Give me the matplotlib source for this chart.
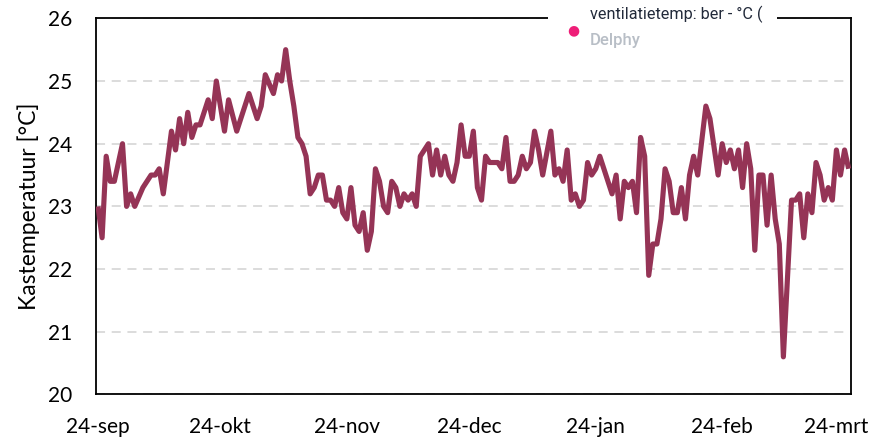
import numpy as np
import matplotlib
matplotlib.use("Agg")
import matplotlib.pyplot as plt
from matplotlib.patches import Rectangle

# Daily greenhouse temperature
START = "2022-09-24"
day_offset = [0, 1, 2, 3, 4, 6, 7, 8, 9, 11, 13, 14, 15, 16, 18, 19, 20, 21, 22, 23,
              24, 25, 27, 28, 29, 31, 32, 34, 37, 39, 40, 41, 43, 44, 45, 46, 47, 48, 49, 50,
              51, 52, 53, 54, 55, 56, 57, 58, 59, 60, 61, 62, 63, 64, 65, 66, 67, 68, 69, 70,
              71, 72, 73, 74, 75, 76, 77, 78, 79, 81, 82, 83, 84, 85, 86, 87, 88, 89, 90, 91,
              92, 93, 94, 95, 96, 98, 99, 100, 101, 102, 103, 104, 105, 106, 107, 108, 109, 111, 112, 113,
              114, 115, 116, 117, 118, 119, 120, 121, 122, 123, 126, 127, 128, 129, 130, 131, 132, 133, 134, 135,
              136, 137, 138, 139, 140, 141, 142, 143, 144, 145, 146, 147, 149, 150, 152, 153, 154, 155, 156, 157,
              158, 159, 160, 161, 162, 163, 164, 165, 166, 167, 168, 170, 171, 172, 173, 174, 175, 176, 177, 178,
              179, 180, 181, 182, 183, 184]
temperature = [23.0, 22.5, 23.8, 23.4, 23.4, 24.0, 23.0, 23.2, 23.0, 23.3, 23.5, 23.5, 23.6, 23.2, 24.2, 23.9, 24.4, 24.0, 24.5, 24.1,
               24.3, 24.3, 24.7, 24.4, 25.0, 24.2, 24.7, 24.2, 24.8, 24.4, 24.6, 25.1, 24.8, 25.1, 25.0, 25.5, 25.0, 24.6, 24.1, 24.0,
               23.8, 23.2, 23.3, 23.5, 23.5, 23.1, 23.1, 23.0, 23.3, 22.9, 22.8, 23.3, 22.7, 22.6, 22.9, 22.3, 22.6, 23.6, 23.4, 23.0,
               22.9, 23.4, 23.3, 23.0, 23.2, 23.1, 23.2, 23.0, 23.8, 24.0, 23.5, 23.9, 23.5, 23.8, 23.5, 23.4, 23.7, 24.3, 23.8, 23.8,
               24.2, 23.3, 23.1, 23.8, 23.7, 23.7, 23.6, 24.1, 23.4, 23.4, 23.5, 23.8, 23.6, 23.7, 24.2, 23.9, 23.5, 24.2, 23.5, 23.6,
               23.4, 23.9, 23.1, 23.2, 23.0, 23.1, 23.7, 23.5, 23.6, 23.8, 23.2, 23.5, 22.8, 23.4, 23.3, 23.4, 22.9, 24.1, 23.8, 21.9,
               22.4, 22.4, 22.8, 23.6, 23.4, 22.9, 22.9, 23.3, 22.8, 23.5, 23.8, 23.5, 24.6, 24.4, 23.5, 24.0, 23.7, 23.9, 23.6, 23.9,
               23.3, 24.0, 23.6, 22.3, 23.5, 23.5, 22.7, 23.5, 22.8, 22.4, 20.6, 23.1, 23.1, 23.2, 22.5, 23.2, 22.9, 23.7, 23.5, 23.1,
               23.3, 23.1, 23.9, 23.5, 23.9, 23.6]

tick_dates = ["2022-09-24", "2022-10-24", "2022-11-24", "2022-12-24",
              "2023-01-24", "2023-02-24", "2023-03-24"]
tick_labels = ["24-sep", "24-okt", "24-nov", "24-dec", "24-jan", "24-feb", "24-mrt"]
y_ticks = [20, 21, 22, 23, 24, 25, 26]

LINE = "#953456"
FONT = "Lato"

plt.rcParams["font.family"] = [FONT, "DejaVu Sans"]

start = np.datetime64(START)
dates = start + np.array(day_offset).astype("timedelta64[D]")

fig = plt.figure(figsize=(8.75, 4.37), dpi=100)
ax = fig.add_axes([0.1097, 0.0973, 0.8629, 0.8608])

ax.plot(dates, temperature, color=LINE, linewidth=3.7,
        solid_joinstyle="round", solid_capstyle="butt", zorder=3)

ax.set_ylim(20, 26)
ax.set_yticks(y_ticks)
ax.set_xlim(start - np.timedelta64(12, "h"), start + np.timedelta64(184 * 24 + 14, "h"))
ax.set_xticks(np.array(tick_dates, dtype="datetime64[D]"))
ax.set_xticklabels(tick_labels)

ax.tick_params(axis="both", length=0, labelsize=15, colors="black")
ax.tick_params(axis="y", pad=17)
ax.tick_params(axis="x", pad=16)

ax.yaxis.grid(True, color="#d9d9d9", linewidth=1.3, linestyle=(0, (5, 3.7)))
ax.set_axisbelow(True)
for s in ax.spines.values():
    s.set_color("black")
    s.set_linewidth(1.3)

ax.set_ylabel("Kastemperatuur [°C]", fontsize=16.5)
ax.yaxis.set_label_coords(-0.074, 0.5)

# legend box that sits over the top border
fig.patches.append(Rectangle((548 / 875, 1 - 52 / 437), 229 / 875, 52 / 437,
                             transform=fig.transFigure, facecolor="white",
                             edgecolor="none", zorder=5))
fig.text(573 / 875, 1 - 30 / 437, "\u25CF", color="#ee1e78", fontsize=10,
         ha="center", va="center", family="DejaVu Sans", zorder=6)
fig.text(590 / 875, 1 - 14 / 437, "ventilatietemp: ber - °C (", color="#222a3a",
         fontsize=11.7, ha="left", va="center", family=["Roboto", "DejaVu Sans"], zorder=6)
fig.text(590 / 875, 1 - 41 / 437, "Delphy", color="#b8bec6", fontweight="medium",
         fontsize=12, ha="left", va="center", family=["Roboto", "DejaVu Sans"], zorder=6)

fig.savefig("out.png", dpi=100)
